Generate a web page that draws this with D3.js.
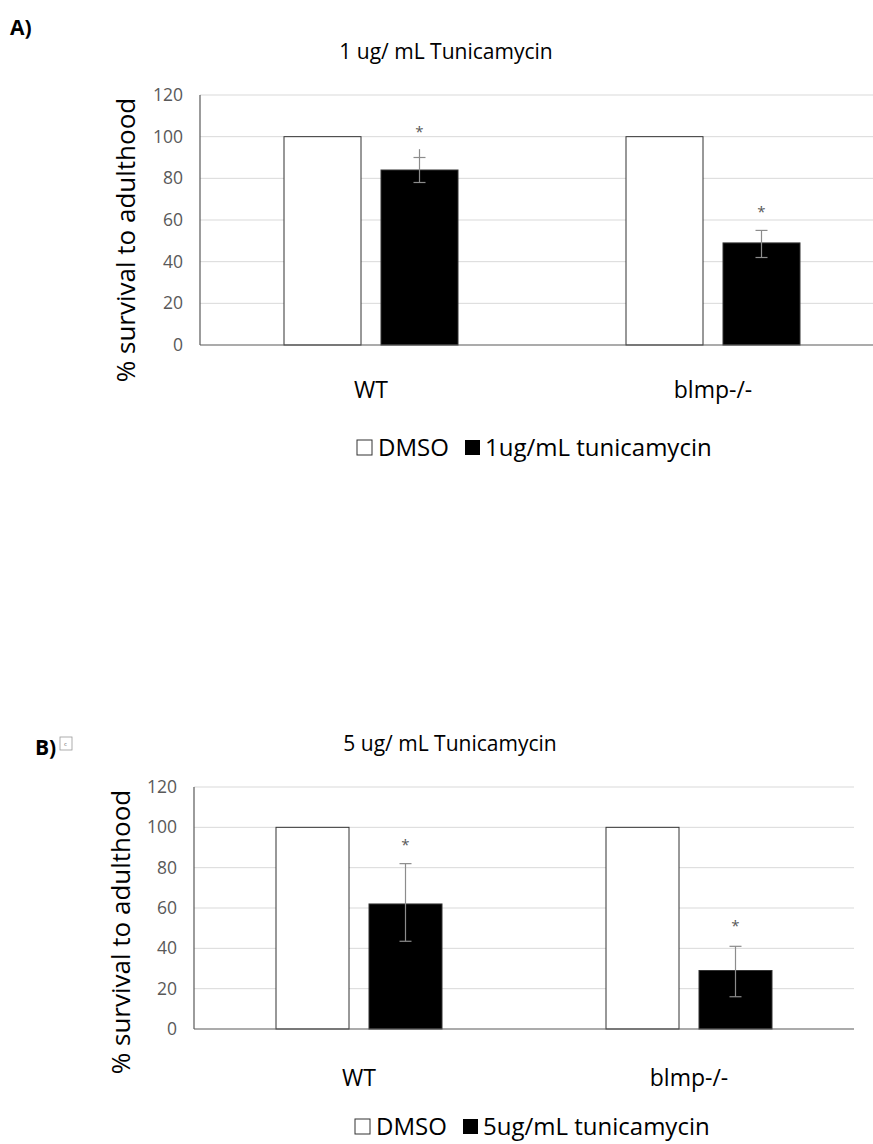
<!DOCTYPE html>
<html><head><meta charset="utf-8">
<script src="https://cdn.jsdelivr.net/npm/d3@7"></script>
<style>body{margin:0;background:#fff}svg{display:block;font-family:"Open Sans",sans-serif}</style>
</head><body><svg id="c" width="873" height="1144"></svg>
<script>
const categories = ["WT", "blmp-/-"];
const yTicks = [0, 20, 40, 60, 80, 100, 120];
// Panel A
const titleA = "1 ug/ mL Tunicamycin";
const seriesA = ["DMSO", "1ug/mL tunicamycin"];
const dmsoA = [100, 100];
const tunA = [84, 49];
const errLowA = [78, 42];
const errHighA = [90, 55];
const errLineTopA = [94, 55];
const starA = [103, 65];
// Panel B
const titleB = "5 ug/ mL Tunicamycin";
const seriesB = ["DMSO", "5ug/mL tunicamycin"];
const dmsoB = [100, 100];
const tunB = [62, 29];
const errLowB = [43.5, 16];
const errHighB = [82, 41];
const errLineTopB = [82, 41];
const starB = [92, 52];

const svg = d3.select("#c");

function panel(o) {
  const g = svg.append("g");
  const x = d3.scaleBand().domain(categories).range([o.left, o.right]);
  const y = d3.scaleLinear().domain([0, 120]).range([o.bottom, o.top]);
  g.selectAll(".grid").data(yTicks.filter(d => d > 0)).join("line")
    .attr("x1", o.left).attr("x2", o.right)
    .attr("y1", d => y(d)).attr("y2", d => y(d))
    .attr("stroke", "#d9d9d9").attr("stroke-width", 1);
  g.selectAll(".tl").data(yTicks).join("text")
    .attr("x", o.left - 17).attr("y", d => y(d) + 6)
    .attr("text-anchor", "end").attr("font-size", 17.5).attr("fill", "#595959")
    .text(d => d);
  const bw = o.bw, gap = 20;
  const cx = c => x(c) + x.bandwidth() / 2;
  const rows = categories.map((c, i) => ({c, d: o.dmso[i], t: o.tun[i], lo: o.lo[i], hi: o.hi[i], top: o.lineTop[i], s: o.star[i]}));
  g.selectAll(".bd").data(rows).join("rect")
    .attr("x", r => cx(r.c) - gap / 2 - bw).attr("width", bw)
    .attr("y", r => y(r.d)).attr("height", r => y(0) - y(r.d))
    .attr("fill", "#fff").attr("stroke", "#333").attr("stroke-width", 1);
  g.selectAll(".bt").data(rows).join("rect")
    .attr("x", r => cx(r.c) + gap / 2).attr("width", bw)
    .attr("y", r => y(r.t)).attr("height", r => y(0) - y(r.t))
    .attr("fill", "#000").attr("stroke", "#333").attr("stroke-width", 1);
  const ex = r => cx(r.c) + gap / 2 + bw / 2;
  g.selectAll(".ev").data(rows).join("line")
    .attr("x1", ex).attr("x2", ex).attr("y1", r => y(r.lo)).attr("y2", r => y(r.top))
    .attr("stroke", "#8c8c8c").attr("stroke-width", 1.2);
  ["lo", "hi"].forEach(k => {
    g.selectAll(".ec" + k).data(rows).join("line")
      .attr("x1", r => ex(r) - 6).attr("x2", r => ex(r) + 6)
      .attr("y1", r => y(r[k])).attr("y2", r => y(r[k]))
      .attr("stroke", "#8c8c8c").attr("stroke-width", 1.2);
  });
  g.selectAll(".st").data(rows).join("text")
    .attr("x", ex).attr("y", r => y(r.s) + 7).attr("text-anchor", "middle")
    .attr("font-size", 15).attr("fill", "#595959").text("*");
  g.append("line").attr("x1", o.left).attr("x2", o.left).attr("y1", y(120)).attr("y2", y(0))
    .attr("stroke", "#595959").attr("stroke-width", 1.2);
  g.append("line").attr("x1", o.left).attr("x2", o.right).attr("y1", y(0)).attr("y2", y(0))
    .attr("stroke", "#595959").attr("stroke-width", 1.2);
  g.selectAll(".cl").data(categories).join("text")
    .attr("x", cx).attr("y", o.catY).attr("text-anchor", "middle")
    .attr("font-size", 23).attr("fill", "#000").text(d => d);
  g.append("text").attr("x", o.titleX).attr("y", o.titleY).attr("text-anchor", "middle")
    .attr("font-size", 21).attr("fill", "#000").text(o.title);
  g.append("text").attr("transform", `translate(${o.ytX},${(y(0) + y(120)) / 2 + o.ytShift}) rotate(-90)`)
    .attr("text-anchor", "middle").attr("font-size", 26).attr("fill", "#000")
    .text("% survival to adulthood");
  const lg = g.append("g");
  lg.append("rect").attr("x", o.legX).attr("y", o.legY - 16).attr("width", 15).attr("height", 15)
    .attr("fill", "#fff").attr("stroke", "#333");
  lg.append("text").attr("x", o.legX + 21).attr("y", o.legY).attr("font-size", 24).text(o.series[0]);
  lg.append("rect").attr("x", o.legX + 108).attr("y", o.legY - 16).attr("width", 15).attr("height", 15)
    .attr("fill", "#000");
  lg.append("text").attr("x", o.legX + 128).attr("y", o.legY).attr("font-size", 24).text(o.series[1]);
}

panel({left: 200, right: 884, top: 95, bottom: 345, bw: 77, dmso: dmsoA, tun: tunA, lo: errLowA, hi: errHighA, lineTop: errLineTopA, star: starA,
  catY: 398, title: titleA, titleX: 446, titleY: 59, ytX: 135, ytShift: 20, legX: 357, legY: 456, series: seriesA});
panel({left: 194, right: 854, top: 787, bottom: 1029, bw: 73, dmso: dmsoB, tun: tunB, lo: errLowB, hi: errHighB, lineTop: errLineTopB, star: starB,
  catY: 1086, title: titleB, titleX: 450, titleY: 751, ytX: 130, ytShift: 24, legX: 355, legY: 1135, series: seriesB});

svg.append("text").attr("x", 10).attr("y", 35).attr("font-size", 21).attr("font-weight", "bold").text("A)");
svg.append("text").attr("x", 35).attr("y", 755).attr("font-size", 21).attr("font-weight", "bold").text("B)");
svg.append("rect").attr("x", 60).attr("y", 737).attr("width", 12).attr("height", 13).attr("fill", "#fff").attr("stroke", "#999").attr("stroke-width", 0.8);
svg.append("text").attr("x", 64).attr("y", 746).attr("font-size", 6).attr("fill", "#666").text("c");
</script></body></html>
